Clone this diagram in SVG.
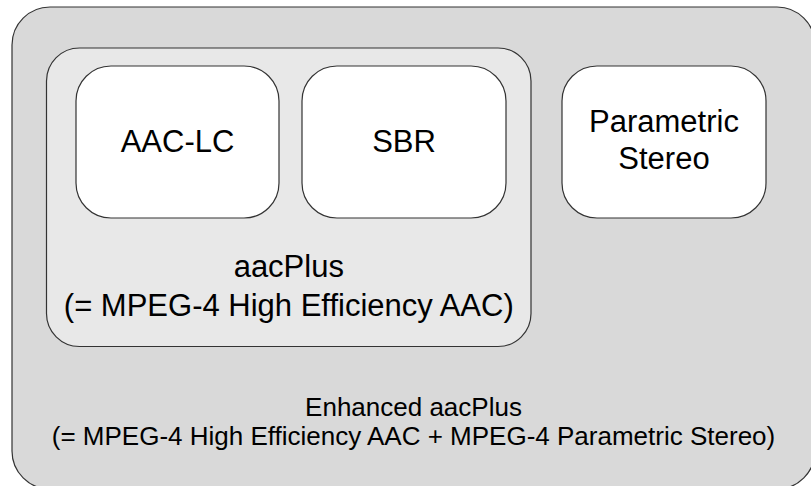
<svg xmlns="http://www.w3.org/2000/svg" width="811" height="486" viewBox="0 0 811 486">
<style>
.box{stroke:#333;stroke-width:1.2}
.outer{fill:#d9d9d9}
.mid{fill:#e8e8e8}
.inner{fill:#ffffff}
text{font-family:"Liberation Sans",Arial,sans-serif;fill:#000;text-anchor:middle}
.big{font-size:31px}
.small{font-size:26px}
</style>
<rect width="811" height="486" fill="#ffffff"/>
<g id="enhanced-aacplus">
<rect class="box outer" x="12" y="7" width="803" height="482" rx="38" ry="38"/>
<text class="small" x="413.5" y="416">Enhanced aacPlus</text>
<text class="small" x="413.5" y="445">(= MPEG-4 High Efficiency AAC + MPEG-4 Parametric Stereo)</text>
</g>
<g id="aacplus">
<rect class="box mid" x="46.5" y="48" width="484.5" height="298.5" rx="33" ry="33"/>
<text class="big" x="288.8" y="277">aacPlus</text>
<text class="big" x="288.8" y="316">(= MPEG-4 High Efficiency AAC)</text>
</g>
<g id="aac-lc">
<rect class="box inner" x="76" y="66" width="203" height="152" rx="35" ry="35"/>
<text class="big" x="177.5" y="152">AAC-LC</text>
</g>
<g id="sbr">
<rect class="box inner" x="302" y="66" width="204" height="152" rx="35" ry="35"/>
<text class="big" x="404" y="152">SBR</text>
</g>
<g id="parametric-stereo">
<rect class="box inner" x="562" y="66" width="204" height="152" rx="35" ry="35"/>
<text class="big" x="664" y="131.7">Parametric</text>
<text class="big" x="664" y="169.3">Stereo</text>
</g>
<g id="connectors"/>
</svg>
